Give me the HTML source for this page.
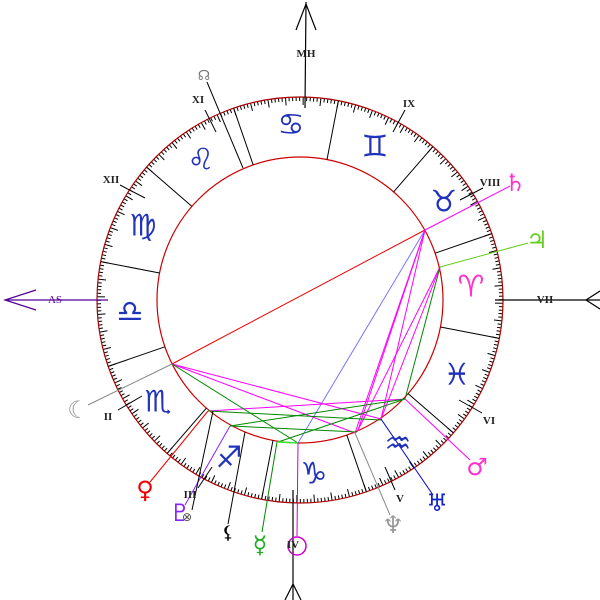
<!DOCTYPE html>
<html><head><meta charset="utf-8"><style>
html,body{margin:0;padding:0;background:#fff;}
svg{display:block;}
.lab{font-family:"Liberation Serif","DejaVu Serif",serif;}
.gl{font-family:"DejaVu Sans",sans-serif;}
</style></head><body>
<svg id="s" width="600" height="600" viewBox="0 0 600 600" xmlns="http://www.w3.org/2000/svg">
<g id="ticks" stroke="#000" stroke-width="1"></g>
<circle cx="300" cy="300" r="203" fill="none" stroke="#aa0000" stroke-width="1.2"/>
<circle cx="300" cy="300" r="143" fill="none" stroke="#cc0000" stroke-width="1.2"/>
<g id="bounds" stroke="#000" stroke-width="1"></g>
<g stroke="#000" stroke-width="1.2" fill="none">
<line x1="306" y1="2" x2="305" y2="108"/>
<polyline points="296,30 306,4 316,30"/>
<line x1="293" y1="490" x2="293" y2="600"/>
<polyline points="285,600 293,584 301,600"/>
<line x1="495" y1="300" x2="600" y2="300"/>
<polyline points="600,291 586,300 600,309"/>
</g>
<g stroke="#550099" stroke-width="1.2" fill="none">
<line x1="5" y1="300" x2="108" y2="300"/>
<polyline points="36,290 5,300 36,310"/>
</g>
<g stroke="#000" stroke-width="1">
<line x1="205" y1="110" x2="216" y2="132"/>
<line x1="120" y1="185" x2="145" y2="198"/>
<line x1="118" y1="410" x2="142" y2="396"/>
<line x1="405" y1="110" x2="393" y2="132"/>
<line x1="483" y1="188" x2="460" y2="200"/>
<line x1="482" y1="413" x2="459" y2="400"/>
<line x1="395" y1="490" x2="385" y2="467"/>
<line x1="198" y1="488" x2="212" y2="467"/>
</g>
<g stroke-width="1" fill="none">
<line x1="172" y1="364" x2="425" y2="230" stroke="#ee0000"/>
<line x1="425" y1="230" x2="298" y2="443" stroke="#7777ff"/>
<g stroke="#ff00ff">
<line x1="425" y1="230" x2="355" y2="433"/>
<line x1="425" y1="230" x2="358" y2="430"/>
<line x1="425" y1="230" x2="381" y2="419"/>
<line x1="440" y1="267" x2="357" y2="432"/>
<line x1="440" y1="267" x2="381" y2="419"/>
<line x1="172" y1="364" x2="355" y2="433"/>
<line x1="172" y1="364" x2="381" y2="419"/>
<line x1="208" y1="411" x2="405" y2="399"/>
</g>
<g stroke="#008800">
<line x1="440" y1="267" x2="405" y2="399"/>
<line x1="172" y1="364" x2="298" y2="443"/>
<line x1="208" y1="411" x2="381" y2="420"/>
<line x1="230" y1="426" x2="405" y2="399"/>
<line x1="278" y1="442" x2="405" y2="399"/>
<line x1="230" y1="426" x2="357" y2="432"/>
</g>
<line x1="278" y1="442" x2="298" y2="443" stroke="#33ee33" stroke-width="1.5"/>
</g>
<g stroke-width="1" fill="none">
<line x1="425" y1="230" x2="510" y2="186" stroke="#ff00ff"/>
<line x1="440" y1="267" x2="528" y2="243" stroke="#66cc22"/>
<line x1="172" y1="364" x2="88" y2="405" stroke="#888"/>
<line x1="208" y1="411" x2="150" y2="482" stroke="#ee0000"/>
<line x1="230" y1="426" x2="185" y2="505" stroke="#8822ff"/>
<line x1="213" y1="411" x2="192" y2="510" stroke="#000"/>
<line x1="245" y1="432" x2="228" y2="524" stroke="#000"/>
<line x1="277" y1="442" x2="262" y2="532" stroke="#008800"/>
<line x1="298" y1="443" x2="297" y2="536" stroke="#cc00cc"/>
<line x1="355" y1="433" x2="390" y2="515" stroke="#888"/>
<line x1="381" y1="419" x2="433" y2="495" stroke="#0000cc"/>
<line x1="405" y1="399" x2="470" y2="460" stroke="#ff00ff"/>
<line x1="243" y1="168" x2="207" y2="82" stroke="#000"/>
</g>
<g class="gl" style="font-family:'DejaVu Sans',sans-serif;font-size:30px" fill="#2233bb" text-anchor="middle" dominant-baseline="central">
<text x="291" y="125">♋&#xFE0E;</text>
<text x="375" y="147">♊&#xFE0E;</text>
<text x="201" y="160">♌&#xFE0E;</text>
<text x="444" y="202">♉&#xFE0E;</text>
<text x="143" y="226">♍&#xFE0E;</text>
<text x="471" y="287" fill="#ff33cc">♈&#xFE0E;</text>
<text x="130" y="312">♎&#xFE0E;</text>
<text x="457" y="375">♓&#xFE0E;</text>
<text x="158" y="402">♏&#xFE0E;</text>
<text x="398" y="444">♒&#xFE0E;</text>
<text x="229" y="458">♐&#xFE0E;</text>
<text x="314" y="474">♑&#xFE0E;</text>
</g>
<g style="font-family:'DejaVu Sans',sans-serif;font-size:24px" text-anchor="middle" dominant-baseline="central">
<text x="515" y="183" fill="#ff33cc">♄&#xFE0E;</text>
<text x="537" y="240" fill="#66cc22">♃&#xFE0E;</text>
<text x="78" y="410" fill="#999">☾&#xFE0E;</text>
<text x="145" y="490" fill="#ee0000">♀&#xFE0E;</text>
<text x="180" y="513" fill="#8822ff">♇&#xFE0E;</text>
<text x="187" y="517" fill="#444" style="font-size:12px">⊗</text>
<text x="228" y="533" fill="#000" style="font-size:18px">⚸&#xFE0E;</text>
<text x="260" y="545" fill="#22aa22">☿&#xFE0E;</text>
<text x="393" y="525" fill="#999">♆&#xFE0E;</text>
<text x="437" y="503" fill="#1122cc">♅&#xFE0E;</text>
<text x="477" y="467" fill="#ff33cc">♂&#xFE0E;</text>
<text x="204" y="76" fill="#777" style="font-size:14px">☊&#xFE0E;</text>
</g>
<circle cx="297" cy="546" r="9" fill="none" stroke="#cc00cc" stroke-width="1.5"/>
<g class="lab" style="font-family:'Liberation Serif',serif;font-size:11px;font-weight:bold" fill="#222" text-anchor="middle" dominant-baseline="central">
<text x="306" y="54">MH</text>
<text x="198" y="100">XI</text>
<text x="409" y="104">IX</text>
<text x="111" y="180">XII</text>
<text x="490" y="183">VIII</text>
<text x="55" y="300" fill="#550099" style="font-weight:normal">AS</text>
<text x="545" y="300">VII</text>
<text x="108" y="417">II</text>
<text x="489" y="421">VI</text>
<text x="190" y="495">III</text>
<text x="400" y="499">V</text>
<text x="293" y="545">IV</text>
</g>
<script>
(function(){
var ns="http://www.w3.org/2000/svg",t=document.getElementById("ticks"),b=document.getElementById("bounds");
function ln(g,r1,r2,a){var th=a*Math.PI/180,c=Math.cos(th),s=Math.sin(th);var l=document.createElementNS(ns,"line");
l.setAttribute("x1",(300+r1*c).toFixed(1));l.setAttribute("y1",(300-r1*s).toFixed(1));
l.setAttribute("x2",(300+r2*c).toFixed(1));l.setAttribute("y2",(300-r2*s).toFixed(1));g.appendChild(l);}
for(var L=0;L<360;L++){var a=L-10.9;var len=(L%5==0)?8:4;ln(t,203-len,203,a);}
for(var k=0;k<12;k++){ln(b,143,203,30*k-10.9);}
})();
</script>
</svg>
</body></html>
